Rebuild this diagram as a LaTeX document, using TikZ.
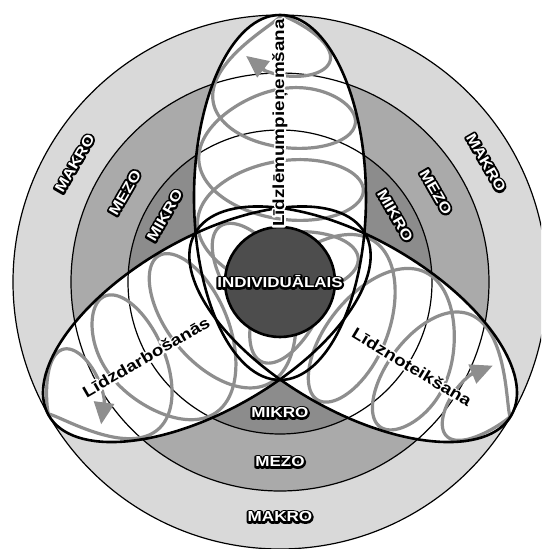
\documentclass[tikz,border=0pt]{standalone}
\usepackage{fontspec}
\setmainfont{Liberation Sans}
\usepackage{graphicx}
\usetikzlibrary{arrows.meta}
\definecolor{makro}{HTML}{D9D9D9}
\definecolor{mezo}{HTML}{AAAAAA}
\definecolor{mikro}{HTML}{8C8C8C}
\definecolor{core}{HTML}{4D4D4D}
\definecolor{coil}{HTML}{8E8E8E}

% outlined text: stroked copy below, filled copy on top
\newcommand{\outlined}[4]{%
  \rlap{\textcolor{#2}{\special{pdf:literal direct 1 Tr #1 w 1 j 1 J}#4\special{pdf:literal direct 0 Tr}}}%
  \textcolor{#3}{#4}}
\newcommand{\levtext}[1]{\scalebox{1.18}[1]{\outlined{3.6}{black}{white}{#1}}}
\newcommand{\modetext}[1]{\scalebox{1.18}[1]{\outlined{3.4}{white}{black}{#1}}}

\tikzset{
  ring/.style={draw=black, line width=1.2pt},
  lens/.style={draw=black, line width=2.6pt},
  coilline/.style={draw=coil, line width=3.2pt, line cap=round},
  coilarrow/.style={draw=coil, fill=coil, line width=3.2pt, -{Triangle[length=22pt,width=20pt]}},
  level/.style={inner sep=0pt, font=\fontsize{14.5}{16}\selectfont\bfseries},
  mode/.style={inner sep=0pt, font=\fontsize{16}{18}\selectfont\bfseries},
}

\begin{document}
\begin{tikzpicture}[x=1pt,y=1pt,
  declare function={
    cyy(\s) = 2 + 11.46*\s + 47*cos(\s r);
    hww(\q) = 83.4*sqrt(max(0, 1 - ((\q-84.5)/182.5)^2));
    cxx(\s) = hww(cyy(\s))*sin(\s r);
  }]
\useasboundingbox (-280,-267) rectangle (261,282);
\clip (-280,-267) rectangle (261,282);
% rings
\fill[makro] (0,0) circle (267);
\fill[mezo] (0,0) circle (209);
\fill[mikro] (0,0) circle (152);
% lens fills
\foreach \r in {0,120,240} {
  \fill[white, rotate=\r] (0,84.5) ellipse [x radius=86, y radius=182.5];
}
% ring outlines
\draw[ring] (0,0) circle (267) (0,0) circle (209) (0,0) circle (152);
% coils
\foreach \r in {0,120,240} {
  \begin{scope}[rotate=\r]
    \draw[coilline] plot[domain=0:22.34, samples=500] ({cxx(\x)},{cyy(\x)});
    \coordinate (tail\r) at ({cxx(22.24)},{cyy(22.24)});
    \coordinate (tip\r) at ({cxx(22.69)},{cyy(22.69)});
  \end{scope}
  \draw[coilarrow] (tail\r) -- (tip\r);
}
% lens outlines
\foreach \r in {0,120,240} {
  \draw[lens, rotate=\r] (0,84.5) ellipse [x radius=86, y radius=182.5];
}
% centre
\draw[line width=2.6pt, fill=core] (0,0) circle (55);
% level labels
\node[level, rotate=60] (makL) at (150:237) {\levtext{MAKRO}};
\node[level, rotate=60] (mezL) at (150:179) {\levtext{MEZO}};
\node[level, rotate=60] (mikL) at (150:133) {\levtext{MIKRO}};
\node[level, rotate=-60] (makR) at (30:238) {\levtext{MAKRO}};
\node[level, rotate=-60] (mezR) at (30:180) {\levtext{MEZO}};
\node[level, rotate=-60] (mikR) at (30:133) {\levtext{MIKRO}};
\node[level] (makB) at (0,-235) {\levtext{MAKRO}};
\node[level] (mezB) at (0,-180) {\levtext{MEZO}};
\node[level] (mikB) at (0,-131) {\levtext{MIKRO}};
\node[inner sep=0pt, font=\fontsize{14.5}{16}\selectfont\bfseries] (ind) at (0,0)
  {\scalebox{1.17}[1]{\outlined{3.6}{black}{white}{INDIVIDUĀLAIS}}};
% mode labels
\node[mode, rotate=90] (lem) at (0,159) {\modetext{Līdzlēmumpieņemšana}};
\node[mode, rotate=30] (dar) at (-134,-75) {\modetext{Līdzdarbošanās}};
\node[mode, rotate=-31] (not) at (132,-85) {\modetext{Līdznoteikšana}};
\end{tikzpicture}
\end{document}
